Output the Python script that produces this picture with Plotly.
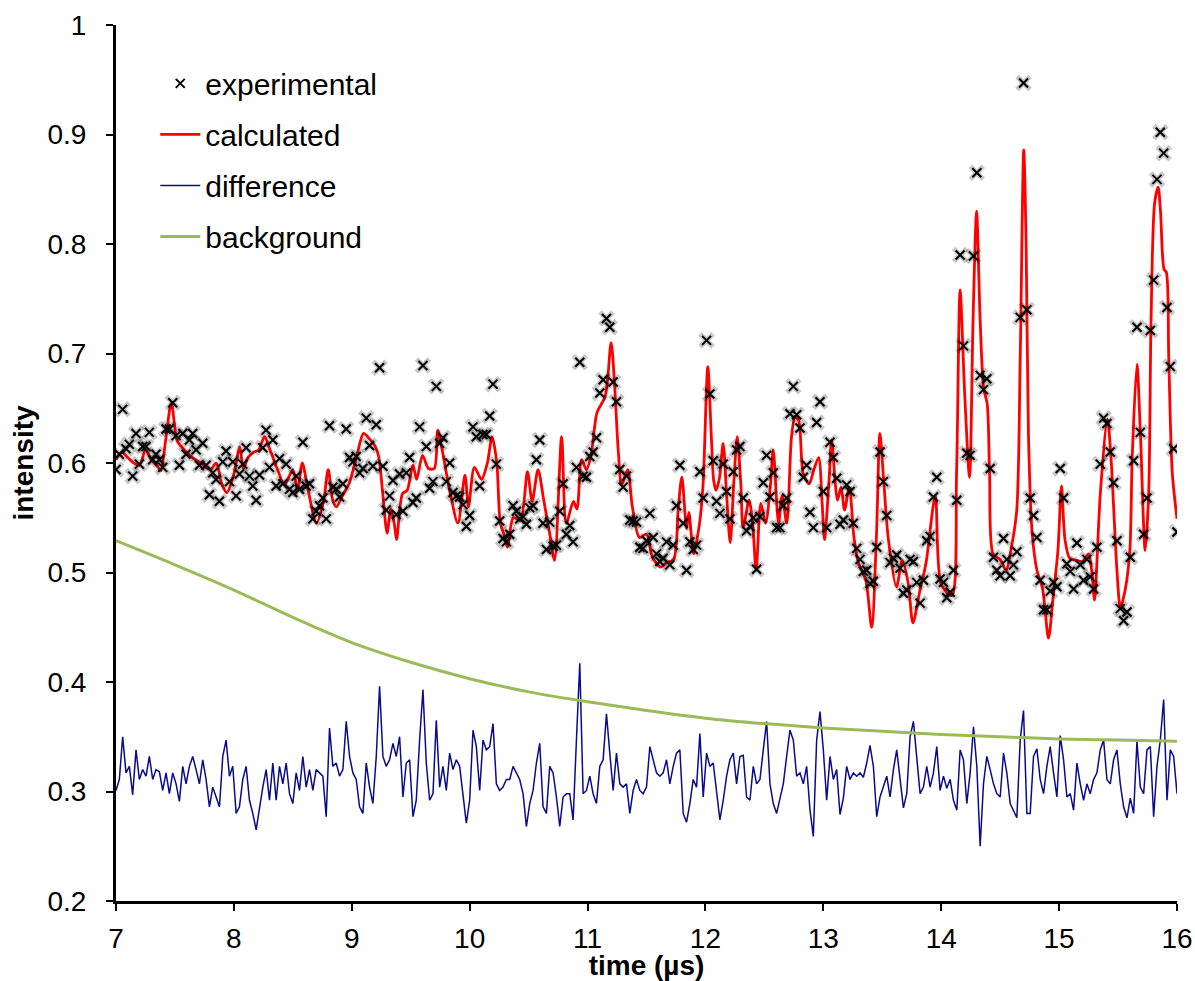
import numpy as np
import plotly.graph_objects as go

# ---------------- data ----------------
# experimental intensity (sampled uniformly from 7 to 16 us)
exp_v = [
 0.594,0.608,0.649,0.613,0.617,0.588,0.627,0.599,0.615,0.615,
 0.628,0.603,0.608,0.603,0.596,0.631,0.631,0.655,0.625,0.598,
 0.627,0.608,0.621,0.627,0.612,0.598,0.618,0.598,0.571,0.591,
 0.585,0.565,0.601,0.611,0.583,0.601,0.570,0.590,0.599,0.614,
 0.588,0.579,0.566,0.589,0.614,0.630,0.596,0.621,0.579,0.604,
 0.581,0.599,0.576,0.573,0.588,0.576,0.619,0.579,0.581,0.549,
 0.556,0.561,0.568,0.549,0.634,0.578,0.576,0.569,0.581,0.631,
 0.605,0.601,0.606,0.591,0.595,0.641,0.616,0.597,0.635,0.687,
 0.597,0.557,0.570,0.584,0.553,0.590,0.556,0.591,0.605,0.564,
 0.568,0.633,0.689,0.615,0.577,0.583,0.670,0.618,0.623,0.583,
 0.600,0.573,0.570,0.569,0.562,0.542,0.552,
 0.633,0.624,0.579,0.626,0.626,0.643,0.672,0.599,0.547,0.531,
 0.528,0.535,0.561,0.556,0.549,0.551,0.544,0.559,0.561,0.603,
 0.621,0.545,0.521,0.546,0.524,0.525,0.556,0.581,0.535,0.543,
 0.528,0.596,0.692,0.588,0.587,0.606,0.610,0.623,0.664,0.676,
 0.732,0.724,0.674,0.656,0.594,0.578,0.588,0.548,0.547,0.546,
 0.523,0.522,0.529,0.554,0.532,0.517,0.510,0.513,0.528,0.507,
 0.525,0.561,0.598,0.545,0.502,0.528,0.521,0.525,0.592,0.568,
 0.712,0.663,0.602,0.565,0.554,0.599,0.574,0.549,0.592,0.612,
 0.615,0.568,0.538,0.542,0.550,0.503,0.551,0.582,0.607,0.569,
 0.591,0.541,0.541,0.561,0.568,0.645,0.670,0.644,0.632,0.587,
 0.598,0.555,0.541,0.637,0.656,
 0.574,0.541,0.619,0.605,0.586,0.544,0.548,0.580,0.574,0.545,
 0.522,0.512,0.501,0.502,0.490,0.492,0.523,0.610,0.583,0.552,
 0.509,0.513,0.516,0.504,0.481,0.484,0.512,0.510,0.491,0.472,
 0.493,0.529,0.533,0.569,0.587,0.494,0.491,0.477,0.482,0.502,
 0.566,0.790,0.707,0.609,0.607,0.789,0.865,0.680,0.667,0.677,
 0.595,0.514,0.502,0.497,0.531,0.512,0.497,0.507,0.519,0.733,
 0.947,0.740,0.568,0.552,0.532,0.493,0.466,0.466,0.483,0.491,
 0.487,0.595,0.568,0.508,0.501,0.485,0.527,0.507,0.493,0.512,
 0.496,0.485,0.523,0.599,0.641,0.636,0.610,0.582,0.529,0.467,
 0.456,0.464,0.514,0.602,0.724,0.628,0.535,0.568,0.721,0.767,
 0.859,0.902,0.883,0.742,0.688,0.613,0.537,
]

# difference curve (same sampling)
diff_v = [
 0.301,0.311,0.350,0.317,0.323,0.297,0.338,0.311,0.320,0.314,
 0.332,0.311,0.320,0.318,0.301,0.317,0.298,0.317,0.307,0.291,
 0.323,0.307,0.323,0.332,0.320,0.307,0.329,0.311,0.286,0.304,
 0.295,0.286,0.332,0.347,0.314,0.323,0.280,0.286,0.311,0.323,
 0.292,0.280,0.265,0.286,0.304,0.320,0.292,0.326,0.292,0.323,
 0.307,0.326,0.298,0.289,0.317,0.301,0.332,0.304,0.320,0.301,
 0.320,0.317,0.314,0.277,0.358,0.323,0.326,0.314,0.320,0.364,
 0.332,0.317,0.311,0.286,0.280,0.326,0.304,0.289,0.332,0.396,
 0.332,0.323,0.329,0.344,0.332,0.350,0.295,0.326,0.329,0.277,
 0.292,0.347,0.393,0.326,0.292,0.298,0.365,0.304,0.323,0.301,
 0.335,0.320,0.329,0.323,0.295,0.271,0.292,
 0.356,0.341,0.301,0.347,0.338,0.341,0.362,0.307,0.301,0.304,
 0.311,0.311,0.323,0.317,0.311,0.298,0.268,0.289,0.301,0.326,
 0.344,0.286,0.280,0.323,0.317,0.295,0.268,0.295,0.298,0.298,
 0.274,0.347,0.417,0.298,0.301,0.314,0.298,0.289,0.323,0.329,
 0.371,0.335,0.301,0.335,0.307,0.304,0.307,0.280,0.301,0.311,
 0.301,0.298,0.304,0.341,0.329,0.317,0.314,0.317,0.329,0.307,
 0.323,0.335,0.338,0.280,0.272,0.289,0.311,0.304,0.353,0.295,
 0.335,0.323,0.326,0.298,0.274,0.292,0.314,0.329,0.335,0.307,
 0.332,0.333,0.295,0.292,0.323,0.307,0.311,0.338,0.364,0.307,
 0.289,0.280,0.295,0.307,0.332,0.356,0.347,0.314,0.317,0.307,
 0.323,0.283,0.259,0.347,0.373,
 0.338,0.292,0.332,0.311,0.320,0.279,0.294,0.323,0.311,0.317,
 0.314,0.317,0.313,0.326,0.342,0.323,0.277,0.295,0.304,0.314,
 0.295,0.320,0.338,0.311,0.285,0.298,0.350,0.364,0.332,0.298,
 0.304,0.323,0.304,0.317,0.341,0.301,0.314,0.303,0.311,0.292,
 0.283,0.338,0.329,0.289,0.317,0.359,0.323,0.250,0.307,0.332,
 0.320,0.307,0.298,0.295,0.335,0.317,0.289,0.283,0.276,0.347,
 0.374,0.280,0.280,0.332,0.339,0.311,0.298,0.323,0.341,0.317,
 0.295,0.351,0.329,0.295,0.298,0.283,0.326,0.307,0.292,0.307,
 0.298,0.311,0.317,0.338,0.347,0.311,0.307,0.329,0.338,0.307,
 0.286,0.276,0.294,0.280,0.346,0.304,0.298,0.338,0.341,0.277,
 0.323,0.347,0.384,0.292,0.338,0.332,0.298,
]

# calculated curve (time, value) read at its turning points
calc_t = [7.00,7.05,7.10,7.15,7.20,7.25,7.30,7.35,7.38,7.42,7.47,7.52,7.58,7.65,7.72,7.80,7.85,7.90,7.94,
          8.00,8.05,8.08,8.12,8.17,8.21,8.26,8.30,8.37,8.43,8.50,8.54,8.58,8.63,8.70,8.76,8.80,8.84,8.87,8.92,8.98,
          9.05,9.10,9.15,9.20,9.23,9.26,9.30,9.33,9.36,9.38,9.43,9.47,9.50,9.52,9.55,9.60,9.65,9.70,9.73,9.77,9.83,9.90,9.96,9.99,
          10.04,10.10,10.15,10.19,10.23,10.26,10.29,10.32,10.37,10.43,10.49,10.53,10.58,10.63,10.68,10.72,10.78,10.82,10.88,10.91,10.95,10.99,
          11.03,11.08,11.15,11.20,11.23,11.26,11.29,11.34,11.38,11.44,11.50,11.55,11.62,11.67,11.73,11.77,11.80,11.84,11.86,11.90,11.95,11.98,
          12.02,12.05,12.07,12.09,12.12,12.15,12.18,12.21,12.24,12.27,12.30,12.32,12.37,12.40,12.43,12.47,12.51,12.55,12.575,12.62,12.65,12.69,
          12.73,12.76,12.79,12.83,12.88,12.92,12.96,12.99,13.01,13.05,13.07,13.12,13.15,13.18,13.22,13.26,13.30,13.36,13.41,13.45,13.48,13.51,
          13.55,13.62,13.67,13.72,13.76,13.82,13.87,13.95,14.00,14.09,14.13,14.16,14.20,14.24,14.27,14.30,14.33,14.36,14.39,14.41,14.44,14.50,
          14.55,14.59,14.64,14.67,14.70,14.72,14.74,14.77,14.81,14.86,14.91,14.95,14.99,15.02,15.05,15.09,15.15,15.20,15.25,15.28,15.30,15.35,
          15.41,15.44,15.49,15.52,15.56,15.60,15.62,15.66,15.69,15.73,15.76,15.78,15.81,15.84,15.86,15.89,15.91,15.93,15.96,16.00]
calc_v = [0.603,0.610,0.605,0.600,0.598,0.612,0.603,0.597,0.593,0.620,0.655,0.620,0.612,0.605,0.600,0.594,0.600,0.580,0.573,
          0.590,0.615,0.595,0.605,0.610,0.612,0.624,0.614,0.594,0.580,0.594,0.575,0.600,0.575,0.545,0.565,0.594,0.565,0.560,0.570,0.582,
          0.610,0.627,0.622,0.615,0.605,0.575,0.536,0.558,0.545,0.530,0.572,0.575,0.590,0.598,0.585,0.607,0.595,0.595,0.630,0.610,0.575,0.545,0.589,0.560,
          0.596,0.585,0.600,0.624,0.600,0.545,0.535,0.523,0.550,0.548,0.592,0.565,0.594,0.565,0.535,0.511,0.624,0.545,0.565,0.558,0.603,0.594,
          0.607,0.646,0.661,0.710,0.670,0.612,0.580,0.594,0.560,0.532,0.535,0.514,0.505,0.509,0.512,0.560,0.587,0.540,0.555,0.517,0.545,0.581,
          0.688,0.624,0.584,0.575,0.587,0.618,0.570,0.527,0.581,0.624,0.581,0.541,0.566,0.545,0.502,0.563,0.545,0.578,0.612,0.545,0.570,0.545,
          0.624,0.642,0.639,0.590,0.581,0.594,0.605,0.563,0.530,0.587,0.621,0.566,0.578,0.557,0.578,0.532,0.508,0.493,0.450,0.532,0.627,0.587,
          0.532,0.487,0.511,0.490,0.454,0.484,0.508,0.570,0.489,0.479,0.591,0.758,0.661,0.587,0.731,0.830,0.731,0.668,0.654,0.591,0.517,0.512,
          0.502,0.520,0.556,0.696,0.886,0.802,0.626,0.538,0.503,0.485,0.440,0.479,0.520,0.579,0.530,0.513,0.511,0.510,0.517,0.498,0.475,0.573,
          0.640,0.605,0.503,0.468,0.484,0.520,0.605,0.690,0.626,0.520,0.573,0.731,0.837,0.852,0.830,0.777,0.774,0.696,0.591,0.549]

# background curve
bg_t = [7.0, 7.5, 8.0, 8.5, 9.0, 9.5, 10.0, 10.5, 11.0, 11.5, 12.0, 12.5, 13.0, 13.5, 14.0, 14.5, 15.0, 15.5, 16.0]
bg_v = [0.529, 0.507, 0.484, 0.459, 0.436, 0.418, 0.403, 0.391, 0.382, 0.374, 0.367, 0.362, 0.358, 0.355, 0.352, 0.350, 0.348, 0.347, 0.346]

y_ticks = [0.2, 0.3, 0.4, 0.5, 0.6, 0.7, 0.8, 0.9, 1.0]
y_tick_text = ["0.2", "0.3", "0.4", "0.5", "0.6", "0.7", "0.8", "0.9", "1"]
x_ticks = [7, 8, 9, 10, 11, 12, 13, 14, 15, 16]

# sampling times of the measured series
t_exp = np.linspace(7.0, 16.0, len(exp_v))
t_diff = np.linspace(7.0, 16.0, len(diff_v))

FONT = "Liberation Sans, Arial, sans-serif"
FS = 28

fig = go.Figure()

# calculated (drawn beneath the crosses)
fig.add_trace(go.Scatter(x=calc_t, y=calc_v, mode="lines", name="calculated",
                         line=dict(color="#ff0000", width=2.8, shape="spline", smoothing=0.8),
                         legendgroup="b", legendrank=2))
# glow under crosses
fig.add_trace(go.Scatter(x=t_exp, y=exp_v, mode="markers", showlegend=False, hoverinfo="skip",
                         marker=dict(symbol="x-thin", size=13, color="rgba(0,0,0,0.22)",
                                     line=dict(width=5, color="rgba(0,0,0,0.22)"))))
fig.add_trace(go.Scatter(x=t_exp, y=exp_v, mode="markers", name="experimental",
                         marker=dict(symbol="x-thin", size=9, color="black",
                                     line=dict(width=2, color="black")),
                         legendgroup="a", legendrank=1))
fig.add_trace(go.Scatter(x=t_diff, y=diff_v, mode="lines", name="difference",
                         line=dict(color="#0a0a8c", width=1.5),
                         legendgroup="c", legendrank=3))
fig.add_trace(go.Scatter(x=bg_t, y=bg_v, mode="lines", name="background",
                         line=dict(color="#9bbb59", width=3, shape="spline"),
                         legendgroup="d", legendrank=4))

fig.update_layout(
    width=1195, height=981,
    margin=dict(l=116, r=18, t=25, b=80, autoexpand=False),
    paper_bgcolor="white", plot_bgcolor="white",
    font=dict(family=FONT, size=FS, color="black"),
    showlegend=True,
    legend=dict(x=0.037, y=0.963, xanchor="left", yanchor="top",
                bgcolor="rgba(0,0,0,0)", font=dict(size=30, family=FONT),
                traceorder="grouped", tracegroupgap=9, itemwidth=40),
)
fig.update_xaxes(range=[7, 16], tickvals=x_ticks, showline=True, linewidth=3, linecolor="black",
                 ticks="outside", ticklen=7, tickwidth=2, tickcolor="black", showgrid=False, zeroline=False,
                 automargin=False, ticklabelstandoff=3,
                 tickfont=dict(size=FS, family=FONT),
                 title=dict(text="time (µs)", font=dict(size=FS, family=FONT, weight="bold"), standoff=0))
fig.update_yaxes(range=[0.2, 1.0], tickvals=y_ticks, ticktext=y_tick_text, showline=True, linewidth=3,
                 linecolor="black", ticks="outside", ticklen=7, tickwidth=2, tickcolor="black",
                 showgrid=False, zeroline=False, automargin=False, ticklabelstandoff=14,
                 tickfont=dict(size=FS, family=FONT),
                 title=dict(text="intensity", font=dict(size=FS, family=FONT, weight="bold"), standoff=6))

fig.write_html("out.html")
